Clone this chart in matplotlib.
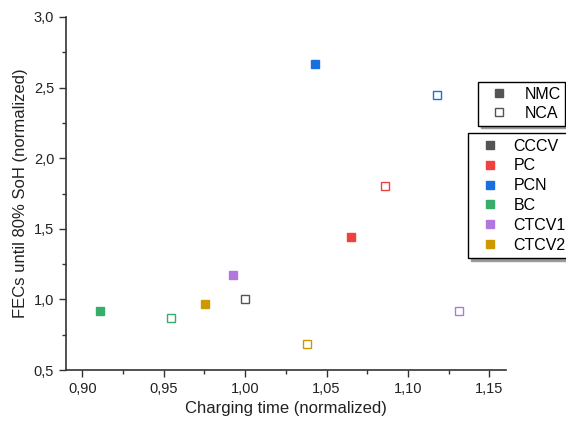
import matplotlib
matplotlib.use("Agg")
import matplotlib.pyplot as plt
from matplotlib.lines import Line2D
from matplotlib.ticker import MultipleLocator, FuncFormatter

plt.rcParams['font.family'] = ['Liberation Sans', 'DejaVu Sans']

methods = ["CCCV", "PC", "PCN", "BC", "CTCV1", "CTCV2"]
colors = ["#545454", "#f04040", "#1a6fdf", "#37ad6b", "#b177de", "#cc9900"]

# NMC (filled) values; None = not shown
nmc_time = [None, 1.065, 1.043, 0.911, 0.9925, 0.9755]
nmc_fec = [None, 1.44, 2.67, 0.92, 1.17, 0.97]
# NCA (hollow) values
nca_time = [1.000, 1.086, 1.118, 0.9545, 1.131, 1.038]
nca_fec = [1.00, 1.80, 2.45, 0.865, 0.915, 0.685]

fig = plt.figure(figsize=(5.66, 4.25), dpi=100)
ax = fig.add_axes([0.1166, 0.1294, 0.777, 0.8306])

for i, m in enumerate(methods):
    if nmc_time[i] is not None:
        ax.plot(nmc_time[i], nmc_fec[i], 's', ms=6, color=colors[i], mec=colors[i])
    ax.plot(nca_time[i], nca_fec[i], 's', ms=6, mfc='white', mec=colors[i], mew=1.0)

ax.set_xlim(0.890, 1.160)
ax.set_ylim(0.5, 3.0)
ax.xaxis.set_major_locator(MultipleLocator(0.05))
ax.xaxis.set_minor_locator(MultipleLocator(0.025))
ax.yaxis.set_major_locator(MultipleLocator(0.5))
ax.yaxis.set_minor_locator(MultipleLocator(0.25))
ax.xaxis.set_major_formatter(FuncFormatter(lambda v, p: f"{v:.2f}".replace('.', ',')))
ax.yaxis.set_major_formatter(FuncFormatter(lambda v, p: f"{v:.1f}".replace('.', ',')))
ax.tick_params(which='major', direction='out', length=5, width=1, labelsize=10.5, colors='#333333', labelcolor='#222222')
ax.tick_params(which='minor', direction='out', length=3, width=1, colors='#333333')
for s in ['top', 'right']:
    ax.spines[s].set_visible(False)
for s in ['left', 'bottom']:
    ax.spines[s].set_color('#333333')
    ax.spines[s].set_linewidth(1.2)

ax.set_xlabel("Charging time (normalized)", fontsize=12, color='#222222')
ax.set_ylabel("FECs until 80% SoH (normalized)", fontsize=12, color='#222222')

shadow = {'color': '#9a9a9a', 'alpha': 1.0}

h1 = [Line2D([], [], ls='', marker='s', ms=6, color='#545454'),
      Line2D([], [], ls='', marker='s', ms=6, mfc='white', mec='#545454', mew=1.0)]
leg1 = fig.legend(h1, ["NMC", "NCA"], loc='upper left', bbox_to_anchor=(0.8445, 0.807),
                  borderaxespad=0, fontsize=11.5, frameon=True, fancybox=False,
                  edgecolor='black', framealpha=1, shadow=shadow,
                  handlelength=2.0, borderpad=0.3, labelspacing=0.25, handletextpad=0.6)
leg1.get_frame().set_linewidth(1.0)

h2 = [Line2D([], [], ls='', marker='s', ms=6, color=c) for c in colors]
leg2 = fig.legend(h2, methods, loc='upper left', bbox_to_anchor=(0.827, 0.687),
                  borderaxespad=0, fontsize=11.5, frameon=True, fancybox=False,
                  edgecolor='black', framealpha=1, shadow=shadow,
                  handlelength=2.0, borderpad=0.35, labelspacing=0.3, handletextpad=0.5)
leg2.get_frame().set_linewidth(1.0)

fig.savefig("out.png", dpi=100)
